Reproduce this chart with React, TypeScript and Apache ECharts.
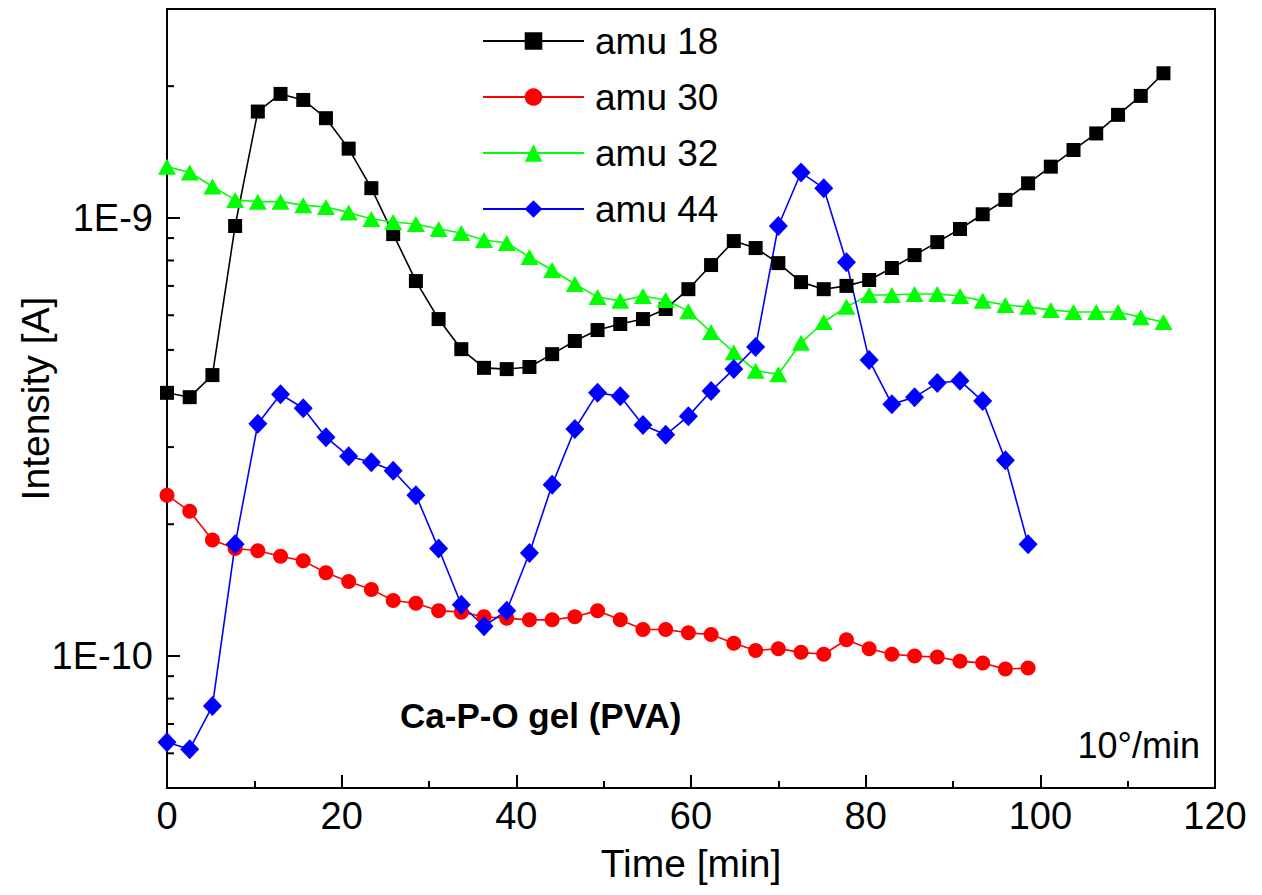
import React, { useEffect, useRef } from "react";
import * as echarts from "echarts";

const FONT = "'Liberation Sans', Arial, sans-serif";

// time axis (min)
const timeMin = [
  0, 2.6, 5.2, 7.8, 10.4, 13.0, 15.6, 18.2, 20.8, 23.4, 25.9, 28.5, 31.1, 33.7, 36.3,
  38.9, 41.5, 44.1, 46.7, 49.3, 51.9, 54.5, 57.1, 59.7, 62.3, 64.9, 67.4, 70.0, 72.6,
  75.2, 77.8, 80.4, 83.0, 85.6, 88.2, 90.8, 93.4, 96.0, 98.6, 101.2, 103.8, 106.4,
  108.9, 111.5, 114.1,
];

const amu18 = [
  3.99e-10, 3.9e-10, 4.38e-10, 9.59e-10, 1.75e-9, 1.92e-9, 1.86e-9, 1.69e-9, 1.44e-9,
  1.17e-9, 9.19e-10, 7.18e-10, 5.88e-10, 5.02e-10, 4.55e-10, 4.52e-10, 4.57e-10,
  4.89e-10, 5.24e-10, 5.55e-10, 5.73e-10, 5.88e-10, 6.2e-10, 6.88e-10, 7.81e-10,
  8.86e-10, 8.54e-10, 7.89e-10, 7.14e-10, 6.88e-10, 7.0e-10, 7.22e-10, 7.69e-10,
  8.23e-10, 8.81e-10, 9.44e-10, 1.02e-9, 1.1e-9, 1.2e-9, 1.31e-9, 1.43e-9, 1.56e-9,
  1.72e-9, 1.9e-9, 2.14e-9,
];

const amu30 = [
  2.33e-10, 2.14e-10, 1.84e-10, 1.76e-10, 1.74e-10, 1.69e-10, 1.65e-10, 1.55e-10,
  1.48e-10, 1.42e-10, 1.34e-10, 1.32e-10, 1.27e-10, 1.26e-10, 1.23e-10, 1.22e-10,
  1.21e-10, 1.21e-10, 1.23e-10, 1.27e-10, 1.21e-10, 1.15e-10, 1.15e-10, 1.13e-10,
  1.12e-10, 1.07e-10, 1.03e-10, 1.04e-10, 1.02e-10, 1.01e-10, 1.09e-10, 1.04e-10,
  1.01e-10, 1.0e-10, 9.95e-11, 9.74e-11, 9.64e-11, 9.34e-11, 9.39e-11,
];

const amu32 = [
  1.31e-9, 1.27e-9, 1.18e-9, 1.1e-9, 1.09e-9, 1.09e-9, 1.07e-9, 1.06e-9, 1.03e-9,
  9.95e-10, 9.79e-10, 9.69e-10, 9.44e-10, 9.24e-10, 8.91e-10, 8.77e-10, 8.15e-10,
  7.61e-10, 7.07e-10, 6.6e-10, 6.47e-10, 6.64e-10, 6.5e-10, 6.13e-10, 5.49e-10,
  4.94e-10, 4.48e-10, 4.4e-10, 5.19e-10, 5.79e-10, 6.27e-10, 6.67e-10, 6.67e-10,
  6.71e-10, 6.71e-10, 6.64e-10, 6.47e-10, 6.33e-10, 6.27e-10, 6.17e-10, 6.1e-10,
  6.1e-10, 6.1e-10, 5.94e-10, 5.79e-10,
];

const amu44 = [
  6.36e-11, 6.13e-11, 7.69e-11, 1.8e-10, 3.39e-10, 3.96e-10, 3.68e-10, 3.16e-10,
  2.86e-10, 2.77e-10, 2.65e-10, 2.33e-10, 1.76e-10, 1.31e-10, 1.17e-10, 1.27e-10,
  1.72e-10, 2.46e-10, 3.3e-10, 3.99e-10, 3.92e-10, 3.37e-10, 3.2e-10, 3.53e-10,
  4.03e-10, 4.52e-10, 5.08e-10, 9.59e-10, 1.27e-9, 1.17e-9, 7.93e-10, 4.74e-10,
  3.76e-10, 3.9e-10, 4.2e-10, 4.25e-10, 3.82e-10, 2.8e-10, 1.8e-10,
];

const minorTickValues = [
  6e-11, 7e-11, 8e-11, 9e-11, 2e-10, 3e-10, 4e-10, 5e-10, 6e-10, 7e-10, 8e-10, 9e-10, 2e-9,
];

const seriesNames = ["amu 18", "amu 30", "amu 32", "amu 44"];

const pair = (vals: number[]) => vals.map((v, i) => [timeMin[i], v]);

export default function App() {
  const ref = useRef<HTMLDivElement>(null);
  useEffect(() => {
    if (!ref.current) return;
    const chart = echarts.init(ref.current, undefined, { renderer: "svg" });
    const lineSeries = (name: string, data: number[], color: string, symbol: string, size: any) => ({
      name,
      type: "line",
      data: pair(data),
      symbol,
      symbolSize: size,
      lineStyle: { color, width: 1.6 },
      itemStyle: { color },
      z: 3,
    });
    chart.setOption({
      animation: false,
      backgroundColor: "#fff",
      textStyle: { fontFamily: FONT },
      grid: {
        left: 167,
        right: 47,
        top: 9,
        bottom: 107,
        containLabel: false,
        outerBoundsMode: "none",
        show: true,
        borderColor: "#000",
        borderWidth: 2,
        backgroundColor: "transparent",
      },
      legend: {
        orient: "vertical",
        left: 477,
        top: 16,
        data: seriesNames,
        itemWidth: 101,
        itemHeight: 22,
        itemGap: 16,
        textStyle: {
          fontSize: 37,
          lineHeight: 40,
          color: "#000",
          fontFamily: FONT,
          padding: [0, 0, 0, 6],
        },
      },
      xAxis: {
        type: "value",
        min: 0,
        max: 120,
        interval: 20,
        name: "Time [min]",
        nameLocation: "middle",
        nameGap: 56,
        nameMoveOverlap: false,
        nameTextStyle: { fontSize: 39, color: "#000", fontFamily: FONT },
        axisLine: { lineStyle: { color: "#000", width: 2 } },
        axisTick: { inside: true, length: 13, lineStyle: { width: 2, color: "#000" } },
        minorTick: { show: true, splitNumber: 2, length: 7, lineStyle: { width: 2, color: "#000" } },
        splitLine: { show: false },
        axisLabel: { fontSize: 38, color: "#000", margin: 9, fontFamily: FONT },
      },
      yAxis: {
        type: "log",
        logBase: 10,
        min: 5e-11,
        max: 3e-9,
        name: "Intensity [A]",
        nameLocation: "middle",
        nameGap: 112,
        nameMoveOverlap: false,
        nameTextStyle: { fontSize: 39, color: "#000", fontFamily: FONT },
        axisLine: { lineStyle: { color: "#000", width: 2 } },
        axisTick: { inside: true, length: 13, lineStyle: { width: 2, color: "#000" } },
        splitLine: { show: false },
        axisLabel: {
          fontSize: 38,
          color: "#000",
          margin: 14,
          fontFamily: FONT,
          formatter: (v: number) => {
            const l = Math.log10(v);
            if (Math.abs(l - Math.round(l)) > 1e-6) return "";
            return "1E" + Math.round(l);
          },
        },
      },
      series: [
        lineSeries("amu 18", amu18, "#000000", "rect", 14),
        lineSeries("amu 30", amu30, "#ff0000", "circle", 15),
        lineSeries("amu 32", amu32, "#00ff00", "triangle", [18, 16]),
        lineSeries("amu 44", amu44, "#0000ff", "diamond", [19, 20]),
        {
          type: "custom",
          silent: true,
          clip: false,
          z: 10,
          data: minorTickValues.map((v) => [0, v]),
          renderItem: (params: any, api: any) => {
            const p = api.coord([api.value(0), api.value(1)]);
            return {
              type: "line",
              shape: { x1: p[0], y1: p[1], x2: p[0] + 7, y2: p[1] },
              style: { stroke: "#000", lineWidth: 2 },
            };
          },
        },
      ],
      graphic: [
        {
          type: "text",
          left: 400,
          top: 698,
          style: {
            text: "Ca-P-O gel (PVA)",
            fontSize: 35,
            fontWeight: "bold",
            fontFamily: FONT,
            fill: "#000",
          },
        },
        {
          type: "text",
          right: 1262 - 1200,
          top: 727,
          style: {
            text: "10°/min",
            fontSize: 36,
            fontFamily: FONT,
            fill: "#000",
          },
        },
      ],
    });
    return () => chart.dispose();
  }, []);
  return <div ref={ref} style={{ width: 1262, height: 895, position: "absolute", left: 0, top: 0 }} />;
}
